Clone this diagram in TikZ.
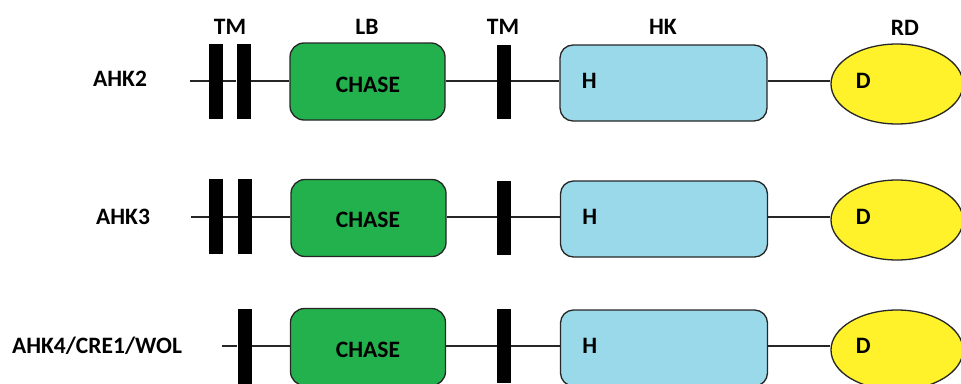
\documentclass[tikz,border=0pt]{standalone}
\usepackage{fontspec}
\setmainfont{Carlito}
\usetikzlibrary{shapes.geometric}
\definecolor{chasegreen}{HTML}{22B14C}
\definecolor{hkblue}{HTML}{99D9EA}
\definecolor{rdyellow}{HTML}{FFF22A}
\begin{document}
\begin{tikzpicture}[x=1pt,y=-1pt,
  txt/.style={font=\bfseries\fontsize{23.5}{26}\selectfont, text=black, inner sep=0pt},
  tmbar/.style={fill=black, draw=none, minimum width=14pt, minimum height=75pt, inner sep=0pt},
  chasebox/.style={fill=chasegreen, draw=black!85, line width=1.3pt, rounded corners=14pt,
     minimum width=155pt, minimum height=77pt, inner sep=0pt},
  hkbox/.style={fill=hkblue, draw=black!85, line width=1.3pt, rounded corners=13pt,
     minimum width=207pt, minimum height=76pt, inner sep=0pt},
  rdell/.style={ellipse, fill=rdyellow, draw=black!85, line width=1.3pt,
     minimum width=132pt, minimum height=80pt, inner sep=0pt},
  link/.style={draw=black!85, line width=1.2pt}
]
\useasboundingbox (0,0) rectangle (961,383);
\clip (0,0) rectangle (961,383);

% column headers
\node[txt] (hTM1) at (230,27) {TM};
\node[txt] (hLB)  at (367,27) {LB};
\node[txt] (hTM2) at (503,27) {TM};
\node[txt] (hHK)  at (663,27) {HK};
\node[txt] (hRD)  at (905,28) {RD};

% ---------- row 1: AHK2 ----------
\node[txt] (n1) at (120,79) {AHK2};
\coordinate (s1) at (190,81);
\node[tmbar] (a1) at (216,81) {};
\node[tmbar] (b1) at (243.5,81) {};
\node[chasebox] (c1) at (367.5,81.5) {};
\node[txt] (ct1) at (368,85) {CHASE};
\node[tmbar, minimum height=74pt] (t1) at (504,82) {};
\node[hkbox] (k1) at (663.5,83) {};
\node[txt] (kh1) at ([xshift=30pt]k1.west |- 0,81) {H};
\node[rdell] (r1) at (897,84) {};
\node[txt] (rd1) at ([xshift=33pt]r1.west |- 0,81) {D};
\draw[link] (s1) -- (a1.west);
\draw[link] (a1.east) -- (b1.west);
\draw[link] (b1.east) -- (c1.west |- b1.east);
\draw[link] (c1.east |- s1) -- (t1.west |- s1);
\draw[link] (t1.east |- s1) -- (k1.west |- s1);
\draw[link] (k1.east |- s1) -- (r1.west |- s1);

% ---------- row 2: AHK3 ----------
\node[txt] (n2) at (123,217) {AHK3};
\coordinate (s2) at (191,217);
\node[tmbar] (a2) at (216,216) {};
\node[tmbar] (b2) at (245,216) {};
\node[chasebox] (c2) at (368.5,218) {};
\node[txt] (ct2) at (368,220) {CHASE};
\node[tmbar, minimum height=74pt] (t2) at (504,218) {};
\node[hkbox] (k2) at (664,219) {};
\node[txt] (kh2) at ([xshift=30pt]k2.west |- 0,217) {H};
\node[rdell] (r2) at (897,220) {};
\node[txt] (rd2) at ([xshift=33pt]r2.west |- 0,217) {D};
\draw[link] (s2) -- (a2.west |- s2);
\draw[link] (a2.east |- s2) -- (b2.west |- s2);
\draw[link] (b2.east |- s2) -- (c2.west |- s2);
\draw[link] (c2.east |- s2) -- (t2.west |- s2);
\draw[link] (t2.east |- s2) -- (k2.west |- s2);
\draw[link] (k2.east |- s2) -- (r2.west |- s2);

% ---------- row 3: AHK4/CRE1/WOL ----------
\node[txt] (n3) at (97,346) {AHK4/CRE1/WOL};
\coordinate (s3) at (222,346);
\node[tmbar] (b3) at (244.5,346) {};
\node[chasebox] (c3) at (368,347) {};
\node[txt] (ct3) at (368,350) {CHASE};
\node[tmbar, minimum height=74pt] (t3) at (504,346) {};
\node[hkbox] (k3) at (664,348) {};
\node[txt] (kh3) at ([xshift=30pt]k3.west |- 0,346) {H};
\node[rdell] (r3) at (897,350) {};
\node[txt] (rd3) at ([xshift=33pt]r3.west |- 0,346) {D};
\draw[link] (s3) -- (b3.west |- s3);
\draw[link] (b3.east |- s3) -- (c3.west |- s3);
\draw[link] (c3.east |- s3) -- (t3.west |- s3);
\draw[link] (t3.east |- s3) -- (k3.west |- s3);
\draw[link] (k3.east |- s3) -- (r3.west |- s3);
\end{tikzpicture}
\end{document}
